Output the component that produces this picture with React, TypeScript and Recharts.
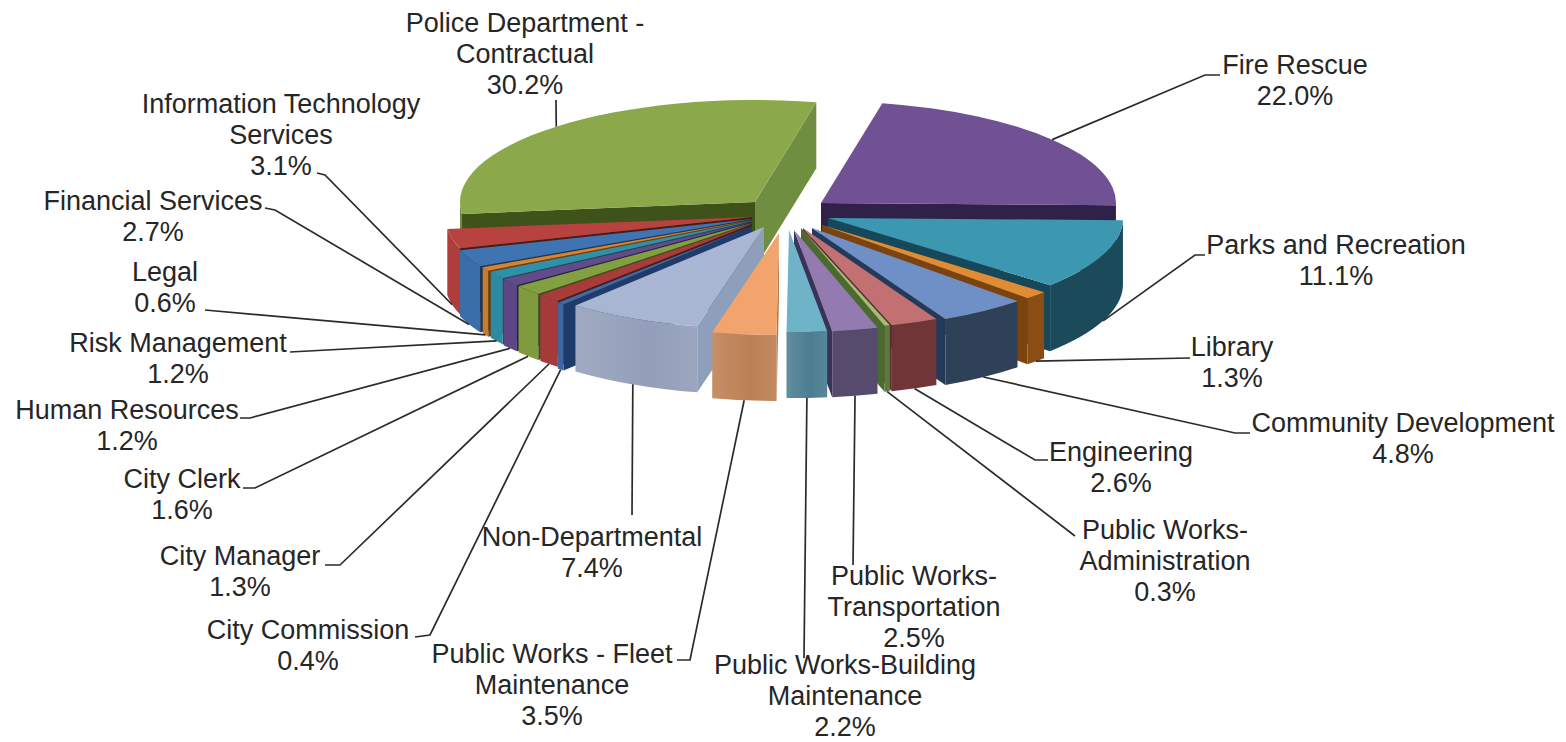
import { Pie, PieChart } from 'recharts';

// Clockwise from the first slice; "\n" marks where a label wraps.
const departments = [
  'Fire Rescue',
  'Parks and Recreation',
  'Library',
  'Community Development',
  'Engineering',
  'Public Works-\nAdministration',
  'Public Works-\nTransportation',
  'Public Works-Building\nMaintenance',
  'Public Works - Fleet\nMaintenance',
  'Non-Departmental',
  'City Commission',
  'City Manager',
  'City Clerk',
  'Human Resources',
  'Risk Management',
  'Legal',
  'Financial Services',
  'Information Technology\nServices',
  'Police Department -\nContractual',
];
const shares = [22.0, 11.1, 1.3, 4.8, 2.6, 0.3, 2.5, 2.2, 3.5, 7.4, 0.4, 1.3, 1.6, 1.2, 1.2, 0.6, 2.7, 3.1, 30.2];

const chartData = departments.map((name, i) => ({ name, share: shares[i] }));

const WIDTH = 1566;
const HEIGHT = 742;
const CX = 772;
const CY = 228;
const RADIUS = 295;
const TILT = 102 / 295;
const DEPTH = 66;
const FIRST_ANGLE = 78;

// top face, outer wall, cut wall
const topColors = ['#6f5194', '#3c97b1', '#e18c33', '#6f90c6', '#c27072', '#a9bc74', '#937ab1', '#6fb3c9', '#f2a46c', '#a9b6d3', '#3f6aa8', '#a83c3b', '#83a040', '#624a8b', '#2f90aa', '#d8842c', '#3f74b2', '#b7423f', '#8ba84b'];
const wallColors = ['#4a3560', '#1b4b5a', '#8a4e14', '#2f4059', '#6f3537', '#5c7b3c', '#564b6c', '#4b7d92', '#bd8054', '#939fba', '#41669f', '#a53a39', '#7f9b3d', '#5e4585', '#2d8aa3', '#c97c2a', '#3a6ea9', '#ae3e3b', '#6f8e40'];
const cutColors = ['#2f2147', '#16485a', '#7a4310', '#233a5b', '#58302f', '#4a6a30', '#3a3359', '#3e6b80', '#b5794f', '#8d9fbb', '#1f3b6c', '#4a1a1a', '#3f4f1c', '#2b2044', '#14485a', '#6a3f12', '#1b365c', '#4d1a18', '#3f5219'];

// Only the pale front slices get a sheen on their outer wall.
const sheenSlices = [7, 8, 9];

// Each slice is pulled away from the centre on its own, and the left group fans out a little wider.
const explode = [
  [49, -25], [56, -10], [50, -3], [40, 0], [31, 0], [29, 0], [22, 2], [17, 2], [7, 5], [-8, -1],
  [-20, -2], [-20, -4], [-20, -5], [-20, -6], [-20, -7], [-20, -8], [-20, -9], [-20, -11], [-17, -26],
];
const stretch = [1, 1, 1, 1, 1, 1, 1, 1, 1, 1, 1, 1, 1.01, 1.017, 1.02, 1.03, 1.04, 1.04, 1];

// Back slices first so the front ones paint over them.
const drawOrder = [18, 0, 17, 16, 15, 14, 13, 12, 11, 10, 1, 2, 3, 4, 5, 6, 7, 9, 8];

// Text centre and first baseline for each label, then the elbow its leader runs through.
const labelAnchors = [
  [1295, 74], [1336, 254], [1232, 356], [1403, 432], [1121, 461], [1165, 539], [914, 585], [845, 674], [552, 663],
  [592, 546], [308, 639], [240, 565], [182, 488], [127, 419], [178, 352], [165, 281], [153, 210], [281, 113], [525, 32],
];
const leaderEnds = [
  [[1205, 75], [1220, 75]], [[1195, 255], [1205, 255]], [[1190, 358]], [[1235, 433], [1250, 433]], [[1035, 460], [1048, 460]],
  [[1075, 536]], [[853, 565]], [[804, 658]], [[690, 660], [677, 660]], [[632, 515]], [[430, 635], [415, 637]],
  [[340, 565], [325, 565]], [[255, 488], [243, 488]], [[250, 418], [240, 418]], [[290, 352]], [[205, 310]],
  [[275, 210], [265, 208]], [[325, 175], [317, 173]], [[556, 100]],
];

const rad = (deg: number) => (deg * Math.PI) / 180;

// Point on a slice's rim, with the angle measured clockwise from north.
function rimPoint(i: number, clockwise: number, radius: number, drop = 0) {
  return {
    x: CX + explode[i][0] + radius * stretch[i] * Math.sin(rad(clockwise)),
    y: CY + explode[i][1] - radius * TILT * Math.cos(rad(clockwise)) + drop,
  };
}

function Wedge(props: any) {
  const i = departments.indexOf(props.name);
  const a0 = 90 - props.startAngle;
  const a1 = 90 - props.endAngle;
  const r = props.outerRadius;
  const rx = r * stretch[i];
  const ry = r * TILT;
  const apex = { x: props.cx + explode[i][0], y: props.cy + explode[i][1] };
  const at = (a: number, drop = 0) => rimPoint(i, a, r, drop);
  const xy = (p: { x: number; y: number }) => `${p.x} ${p.y}`;

  const cutWall = (a: number) => {
    const rim = at(a);
    const low = at(a, DEPTH);
    return `M${xy(apex)}L${xy(rim)}L${xy(low)}L${apex.x} ${apex.y + DEPTH}Z`;
  };

  const from = Math.max(a0, 90);
  const to = Math.min(a1, 270);
  const sheenId = `sheen-${i}`;
  const outerWall = `M${xy(at(from))}A${rx} ${ry} 0 0 1 ${xy(at(to))}L${xy(at(to, DEPTH))}A${rx} ${ry} 0 0 0 ${xy(at(from, DEPTH))}Z`;

  return (
    <g>
      <defs>
        <linearGradient id={sheenId} x1="0" y1="0" x2="1" y2="0">
          <stop offset="0" stopColor="#fff" stopOpacity={0.12} />
          <stop offset="0.6" stopColor="#fff" stopOpacity={0} />
          <stop offset="1" stopColor="#fff" stopOpacity={0.08} />
        </linearGradient>
      </defs>
      {Math.sin(rad(a0)) < 0 && <path d={cutWall(a0)} fill={cutColors[i]} />}
      {Math.sin(rad(a1)) > 0 && <path d={cutWall(a1)} fill={a1 > 360 ? wallColors[i] : cutColors[i]} />}
      {to > from && <path d={outerWall} fill={wallColors[i]} />}
      {to > from && sheenSlices.includes(i) && <path d={outerWall} fill={`url(#${sheenId})`} />}
      <path d={`M${xy(apex)}L${xy(at(a0))}A${rx} ${ry} 0 0 1 ${xy(at(a1))}Z`} fill={topColors[i]} />
    </g>
  );
}

function SliceLabel(props: any) {
  const i = departments.indexOf(props.name);
  const mid = 90 - props.midAngle;
  const front = Math.cos(rad(mid)) < 0;
  const start = rimPoint(i, mid, RADIUS, front ? DEPTH : 0);
  const [tx, ty] = labelAnchors[i];
  const rows = [...departments[i].split('\n'), `${shares[i].toFixed(1)}%`];
  const points = [[start.x, start.y], ...leaderEnds[i]].map(p => p.join(',')).join(' ');
  return (
    <g>
      <polyline points={points} fill="none" stroke="#2b2b2b" strokeWidth={1.7} />
      {rows.map((row, n) => (
        <text
          key={row}
          x={tx}
          y={ty + n * 31}
          textAnchor="middle"
          fontFamily="'Liberation Sans', Arial, sans-serif"
          fontSize={27}
          fill="#262626"
        >
          {row}
        </text>
      ))}
    </g>
  );
}

export default function App() {
  return (
    <div style={{ position: 'absolute', left: 0, top: 0, width: WIDTH, height: HEIGHT, background: '#fff' }}>
      <PieChart width={WIDTH} height={HEIGHT} margin={{ top: 0, right: 0, bottom: 0, left: 0 }}>
        {drawOrder.map(slice => (
          <Pie
            key={slice}
            data={chartData}
            dataKey="share"
            nameKey="name"
            cx={CX}
            cy={CY}
            outerRadius={RADIUS}
            startAngle={FIRST_ANGLE}
            endAngle={FIRST_ANGLE - 360}
            stroke="none"
            isAnimationActive={false}
            shape={(p: any) => (p.name === departments[slice] ? <Wedge {...p} /> : <g />)}
          />
        ))}
        <Pie
          data={chartData}
          dataKey="share"
          nameKey="name"
          cx={CX}
          cy={CY}
          outerRadius={RADIUS}
          startAngle={FIRST_ANGLE}
          endAngle={FIRST_ANGLE - 360}
          stroke="none"
          isAnimationActive={false}
          shape={() => <g />}
          label={(p: any) => <SliceLabel {...p} />}
          labelLine={false}
        />
      </PieChart>
    </div>
  );
}
